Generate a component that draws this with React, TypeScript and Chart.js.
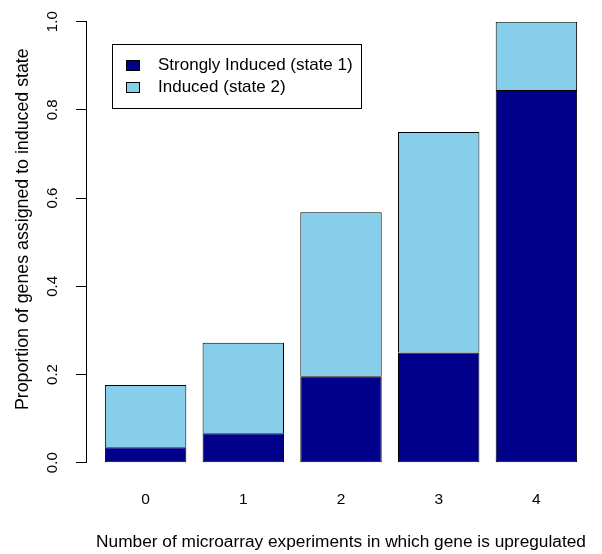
import React, { useEffect, useRef } from 'react';
import { Chart, registerables } from 'chart.js';

Chart.register(...registerables);

const categories = ['0', '1', '2', '3', '4'];
const stronglyInduced = [0.035, 0.067, 0.196, 0.25, 0.845];
const inducedOnly = [0.141, 0.205, 0.372, 0.5, 0.155];
const yTicks = [0, 0.2, 0.4, 0.6, 0.8, 1.0];
const seriesLabels = ['Strongly Induced (state 1)', 'Induced (state 2)'];
const seriesColors = ['#00008B', '#87CEEB'];
const xTitle = 'Number of microarray experiments in which gene is upregulated';
const yTitle = 'Proportion of genes assigned to induced state';

const FONT = "'Liberation Sans', Arial, Helvetica, sans-serif";

// R barplot geometry: width 1, space 0.2, 4% axis extension
const BAR_W = 1;
const SPACE = 0.2;
const barCenter = (i: number) => SPACE + BAR_W / 2 + i * (BAR_W + SPACE);
const xLo = SPACE;
const xHi = categories.length * (BAR_W + SPACE);
const xExt = (xHi - xLo) * 0.04;

const legendPlugin = {
  id: 'rLegend',
  afterDraw(chart: any) {
    const ctx = chart.ctx as CanvasRenderingContext2D;
    const box = { x: 112, y: 44, w: 249, h: 64 };
    ctx.save();
    ctx.strokeStyle = '#000';
    ctx.lineWidth = 1;
    ctx.strokeRect(box.x + 0.5, box.y + 0.5, box.w, box.h);
    ctx.font = `17px ${FONT}`;
    ctx.textBaseline = 'middle';
    ctx.textAlign = 'left';
    chart.data.datasets.forEach((ds: any, i: number) => {
      const cy = 65 + i * 22.5;
      const top = Math.round(cy - 5.5);
      ctx.fillStyle = ds.backgroundColor;
      ctx.fillRect(126, top, 14, 11);
      ctx.strokeRect(126.5, top + 0.5, 13, 10);
      ctx.fillStyle = '#000';
      ctx.fillText(ds.label, 158, cy);
    });
    ctx.restore();
  },
};

const yTitlePlugin = {
  id: 'rYTitle',
  afterDraw(chart: any) {
    const ctx = chart.ctx as CanvasRenderingContext2D;
    const area = chart.chartArea;
    ctx.save();
    ctx.translate(23, (area.top + area.bottom) / 2 - 13);
    ctx.rotate(-Math.PI / 2);
    ctx.font = `17.8px ${FONT}`;
    ctx.fillStyle = '#000';
    ctx.textAlign = 'center';
    ctx.textBaseline = 'middle';
    ctx.fillText(yTitle, 0, 0);
    ctx.restore();
  },
};

export default function App() {
  const ref = useRef<HTMLCanvasElement>(null);
  useEffect(() => {
    if (!ref.current) return;
    const chart = new Chart(ref.current, {
      type: 'bar',
      data: {
        datasets: [
          {
            label: seriesLabels[0],
            data: stronglyInduced.map((v, i) => ({ x: barCenter(i), y: v })),
            backgroundColor: seriesColors[0],
            borderColor: '#000',
            borderWidth: 1,
            borderSkipped: false,
            categoryPercentage: 1,
            barPercentage: BAR_W / (BAR_W + SPACE),
          },
          {
            label: seriesLabels[1],
            data: inducedOnly.map((v, i) => ({ x: barCenter(i), y: v })),
            backgroundColor: seriesColors[1],
            borderColor: '#000',
            borderWidth: 1,
            borderSkipped: 'start',
            categoryPercentage: 1,
            barPercentage: BAR_W / (BAR_W + SPACE),
          },
        ],
      } as any,
      options: {
        responsive: false,
        animation: false,
        layout: { padding: { left: 0, right: 6, top: 21.7, bottom: 0 } },
        plugins: { legend: { display: false }, tooltip: { enabled: false }, title: { display: false } },
        scales: {
          x: {
            type: 'linear',
            stacked: true,
            offset: false,
            min: xLo - xExt,
            max: xHi + xExt,
            grid: { display: false, drawTicks: false, offset: false },
            border: { display: false },
            afterBuildTicks: (scale: any) => {
              scale.ticks = categories.map((_, i) => ({ value: barCenter(i) }));
            },
            ticks: {
              autoSkip: false,
              maxRotation: 0,
              minRotation: 0,
              padding: 28,
              color: '#000',
              font: { family: FONT, size: 15.5 },
              callback: (_v: any, i: number) => categories[i],
            },
            title: {
              display: true,
              text: xTitle,
              color: '#000',
              font: { family: FONT, size: 17.3 },
              padding: { top: 0, bottom: 1 },
            },
            afterFit: (scale: any) => {
              scale.height = 91.3;
            },
          },
          y: {
            type: 'linear',
            stacked: true,
            min: 0,
            max: 1,
            grid: { drawOnChartArea: false, drawTicks: true, tickLength: 10, color: '#000' },
            border: { display: true, color: '#000', width: 1 },
            afterBuildTicks: (scale: any) => {
              scale.ticks = yTicks.map((v) => ({ value: v }));
            },
            ticks: {
              minRotation: 90,
              maxRotation: 90,
              crossAlign: 'center',
              padding: 12.6,
              color: '#000',
              font: { family: FONT, size: 15 },
              callback: (v: any) => Number(v).toFixed(1),
            },
            title: { display: false },
            afterFit: (scale: any) => {
              scale.width = 86;
            },
          },
        },
      } as any,
      plugins: [legendPlugin, yTitlePlugin],
    });
    return () => chart.destroy();
  }, []);
  return (
    <div style={{ position: 'absolute', left: 0, top: 0, width: 602, height: 554, background: '#fff' }}>
      <canvas ref={ref} width={602} height={554} />
    </div>
  );
}
